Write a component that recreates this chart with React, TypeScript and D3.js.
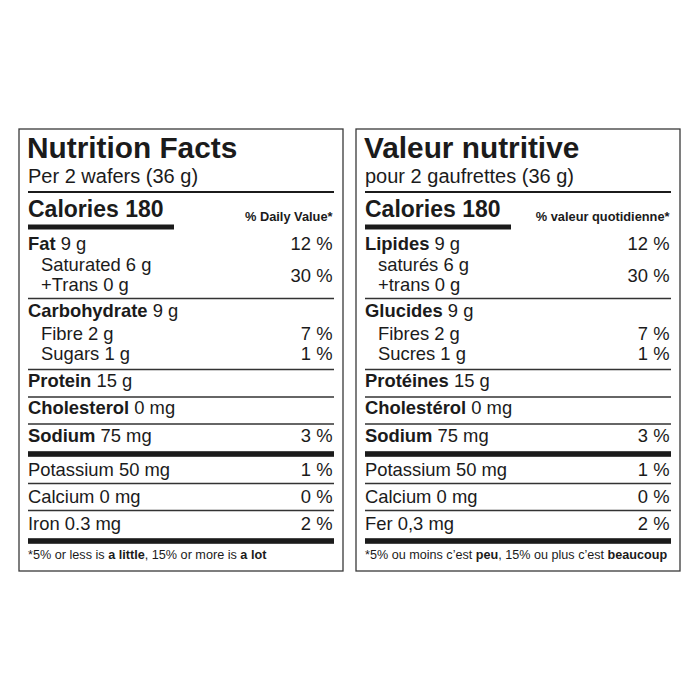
import React, { useRef, useEffect } from 'react';
import * as d3 from 'd3';

// label data, one entry per nutrient row
const labelsEn = ['Fat', 'Saturated', '+Trans', 'Carbohydrate', 'Fibre', 'Sugars', 'Protein', 'Cholesterol', 'Sodium', 'Potassium', 'Calcium', 'Iron'];
const labelsFr = ['Lipides', 'saturés', '+trans', 'Glucides', 'Fibres', 'Sucres', 'Protéines', 'Cholestérol', 'Sodium', 'Potassium', 'Calcium', 'Fer'];
const amountsEn = ['9 g', '6 g', '0 g', '9 g', '2 g', '1 g', '15 g', '0 mg', '75 mg', '50 mg', '0 mg', '0.3 mg'];
const amountsFr = ['9 g', '6 g', '0 g', '9 g', '2 g', '1 g', '15 g', '0 mg', '75 mg', '50 mg', '0 mg', '0,3 mg'];
const boldLabel = [true, false, false, true, false, false, true, true, true, false, false, false];
const indented = [false, true, true, false, true, true, false, false, false, false, false, false];
// % daily value per row (null = none shown); saturated+trans share one value
const dailyValues: (number | null)[] = [12, null, null, null, 7, 1, null, null, 3, 1, 0, 2];
const satTransDV = 30;
const calories = 180;

// rule drawn after each row: none, thin or thick
const ruleAfter = ['', '', 'thin', '', '', 'thin', 'thin', 'thin', 'thick', 'thin', 'thin', 'thick'];

// layout
const W = 700;
const H = 700;
const boxTop = 129;
const boxBottom = 571;
const boxW = 324;
const leftX = 19;
const panelShift = 337;
const pad = 9;
const font = '"Liberation Sans", Arial, Helvetica, sans-serif';
const ink = '#1b1b1b';

// row baselines
const rowY = d3.scaleOrdinal<number, number>()
  .domain(d3.range(labelsEn.length))
  .range([249.5, 270.5, 290.5, 317, 339.5, 359.5, 387, 414, 442, 476, 502.5, 529.5]);
const ruleY: Record<number, number> = { 2: 298.5, 5: 369.5, 6: 397, 7: 424, 8: 454, 9: 483.5, 10: 510.5, 11: 541 };

interface PanelProps {
  x: number;
  title: string;
  serving: string;
  dvHeader: string;
  labels: string[];
  amounts: string[];
  footnote: React.ReactNode;
  footLen: number;
}

const Panel: React.FC<PanelProps> = ({ x, title, serving, dvHeader, labels, amounts, footnote, footLen }) => {
  const footRef = useRef<SVGTextElement>(null);
  const cl = x + pad;
  const cr = x + boxW - pad;
  const pr = cr - 1.5;

  // squeeze the footnote to the condensed width of the original
  useEffect(() => {
    if (!footRef.current) return;
    const w = footRef.current.getBBox().width;
    const k = w > 0 ? footLen / w : 1;
    d3.select(footRef.current).attr('transform', `translate(${cl},559) scale(${k},1)`);
  }, [footLen, cl]);

  return (
    <g fontFamily={font} fill={ink}>
      <rect x={x} y={boxTop} width={boxW} height={boxBottom - boxTop} fill="#fff" stroke="#3a3a3a" strokeWidth={1.3} />
      <text x={cl - 1} y={157.5} fontSize={29.8} fontWeight="bold">{title}</text>
      <text x={cl} y={183} fontSize={20}>{serving}</text>
      <line x1={cl} x2={cr} y1={192} y2={192} stroke={ink} strokeWidth={2} />
      <text x={cl} y={217} fontSize={23} fontWeight="bold">{`Calories ${calories}`}</text>
      <text x={pr} y={220.5} fontSize={12.8} fontWeight="bold" textAnchor="end">{dvHeader}</text>
      <rect x={cl} y={224.5} width={146} height={5} fill={ink} />

      {labels.map((lab, i) => (
        <text key={lab} x={cl + (indented[i] ? 13 : 0)} y={rowY(i)} fontSize={18.4}>
          <tspan fontWeight={boldLabel[i] ? 'bold' : 'normal'}>{lab}</tspan>
          {` ${amounts[i]}`}
        </text>
      ))}
      {dailyValues.map((v, i) =>
        v === null ? null : (
          <text key={`dv${i}`} x={pr} y={rowY(i)} fontSize={18.4} textAnchor="end">{`${v} %`}</text>
        )
      )}
      <text x={pr} y={281.5} fontSize={18.4} textAnchor="end">{`${satTransDV} %`}</text>

      {ruleAfter.map((r, i) => {
        if (!r) return null;
        const y = ruleY[i];
        return r === 'thick' ? (
          <rect key={`r${i}`} x={cl} y={y - 2.8} width={cr - cl} height={5.6} fill={ink} />
        ) : (
          <line key={`r${i}`} x1={cl} x2={cr} y1={y} y2={y} stroke="#333" strokeWidth={1.3} />
        );
      })}

      <text ref={footRef} transform={`translate(${cl},559)`} fontSize={13.2}>{footnote}</text>
    </g>
  );
};

const App: React.FC = () => (
  <div style={{ position: 'absolute', left: 0, top: 0, background: '#fff' }}>
    <svg width={W} height={H} viewBox={`0 0 ${W} ${H}`}>
      <rect width={W} height={H} fill="#fff" />
      <Panel
        x={leftX}
        title="Nutrition Facts"
        serving="Per 2 wafers (36 g)"
        dvHeader="% Daily Value*"
        labels={labelsEn}
        amounts={amountsEn}
        footLen={239}
        footnote={
          <>
            *5% or less is <tspan fontWeight="bold">a little</tspan>, 15% or more is <tspan fontWeight="bold">a lot</tspan>
          </>
        }
      />
      <Panel
        x={leftX + panelShift}
        title="Valeur nutritive"
        serving="pour 2 gaufrettes (36 g)"
        dvHeader="% valeur quotidienne*"
        labels={labelsFr}
        amounts={amountsFr}
        footLen={302}
        footnote={
          <>
            *5% ou moins c’est <tspan fontWeight="bold">peu</tspan>, 15% ou plus c’est <tspan fontWeight="bold">beaucoup</tspan>
          </>
        }
      />
    </svg>
  </div>
);

export default App;
